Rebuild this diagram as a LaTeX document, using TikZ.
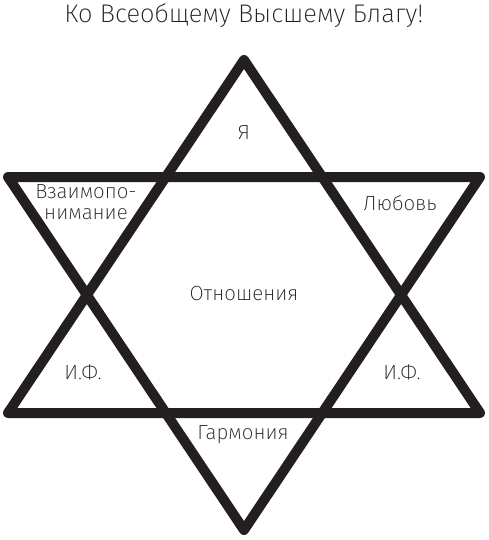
\documentclass[tikz,border=0pt]{standalone}
\usepackage{fontspec}
\setmainfont{Fira Sans ExtraLight}
\usetikzlibrary{positioning}
\definecolor{starline}{RGB}{35,31,32}
\tikzset{
    starpath/.style={line width=10pt,line join=round,color=starline},
    lbl/.style={font=\fontsize{20.5}{21}\selectfont,text=starline,align=center,inner sep=0pt},
}

\begin{document}
\begin{tikzpicture}[x=1pt,y=-1pt]
    \useasboundingbox (0,0) rectangle (488,540);
    \node [font=\fontsize{25.5}{28}\selectfont,text=starline,inner sep=0pt] (title) at (244,16) {Ко Всеобщему Высшему Благу!};
    \begin{scope}[starpath]
    \draw (244,60) -- (480,413) -- (8,413) -- cycle;
    \draw (8,177) -- (480,177) -- (244,530) -- cycle;
    \end{scope}
    \node [lbl] (ya)      at (244,132) {Я};
    \node [lbl] (vzaim)   at (86,202)  {Взаимопо-\\нимание};
    \node [lbl] (lyubov)  at (400,203) {Любовь};
    \node [lbl] (otnosh)  at (244,293) {Отношения};
    \node [lbl] (ifleft)  at (83,372)  {И.Ф.};
    \node [lbl] (ifright) at (402,372) {И.Ф.};
    \node [lbl] (garm)    at (243,435) {Гармония};
\end{tikzpicture}
\end{document}
